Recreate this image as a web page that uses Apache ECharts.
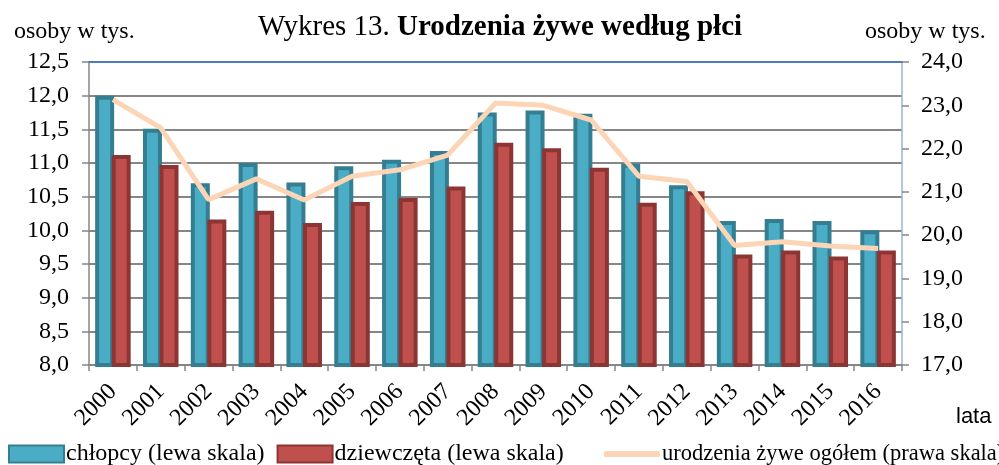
<!DOCTYPE html>
<html>
<head>
<meta charset="utf-8">
<script src="https://cdn.jsdelivr.net/npm/echarts@6/dist/echarts.min.js"></script>
<style>
html,body{margin:0;padding:0;background:#fff;}
#chart{width:999px;height:465px;}
</style>
</head>
<body>
<div id="chart"></div>
<script>
var years = ['2000','2001','2002','2003','2004','2005','2006','2007','2008','2009','2010','2011','2012','2013','2014','2015','2016'];
var boys = [12.0, 11.51, 10.7, 11.0, 10.71, 10.95, 11.05, 11.18, 11.75, 11.78, 11.73, 10.99, 10.67, 10.14, 10.17, 10.14, 10.0];
var girls = [11.12, 10.97, 10.16, 10.29, 10.11, 10.42, 10.48, 10.65, 11.3, 11.22, 10.93, 10.41, 10.58, 9.64, 9.7, 9.61, 9.7];
var total = [23.13, 22.48, 20.82, 21.3, 20.81, 21.36, 21.51, 21.85, 23.05, 23.0, 22.66, 21.36, 21.24, 19.76, 19.85, 19.75, 19.69];
var leftTicks = {min: 8, max: 12.5, step: 0.5};
var rightTicks = {min: 17, max: 24, step: 1};
var names = ['chłopcy (lewa skala)', 'dziewczęta (lewa skala)', 'urodzenia żywe ogółem (prawa skala)'];

var serif = 'Liberation Serif';
function fmt(v){ return v.toFixed(1).replace('.', ','); }

var chart = echarts.init(document.getElementById('chart'), null, {renderer: 'canvas'});
chart.setOption({
  animation: false,
  backgroundColor: '#ffffff',
  textStyle: {fontFamily: serif},
  title: [
    {
      text: '{n|Wykres 13. }{b|Urodzenia żywe według płci}',
      left: 495, top: 8, textAlign: 'center',
      textStyle: {fontWeight: 'normal', rich: {
        n: {fontFamily: serif, fontSize: 29, fontWeight: 'normal', color: '#000'},
        b: {fontFamily: serif, fontSize: 29, fontWeight: 'bold', color: '#000'}
      }}
    },
    {text: 'osoby w tys.', left: 9, top: 15, textStyle: {fontFamily: serif, fontSize: 24, fontWeight: 'normal', color: '#000'}},
    {text: 'osoby w tys.', left: 860, top: 15, textStyle: {fontFamily: serif, fontSize: 24, fontWeight: 'normal', color: '#000'}},
    {text: 'lata', left: 951, top: 401, textStyle: {fontFamily: 'Liberation Sans', fontSize: 22, fontWeight: 'normal', color: '#000'}}
  ],
  legend: [
    {
      left: 3, top: 437,
      itemWidth: 55, itemHeight: 17, itemGap: 12,
      textStyle: {fontFamily: serif, fontSize: 24, color: '#000', padding: [0,0,0,-3]},
      data: [
        {name: names[0], icon: 'rect'},
        {name: names[1], icon: 'rect'}
      ]
    },
    {
      left: 599, top: 437,
      itemWidth: 56, itemHeight: 6,
      textStyle: {fontFamily: serif, fontSize: 22.5, color: '#000', padding: [0,0,0,-3], lineHeight: 24},
      data: [{name: names[2], icon: 'roundRect'}]
    }
  ],
  grid: {left: 89, right: 97, top: 62, bottom: 100, containLabel: false},
  xAxis: [
    {
      type: 'category', data: years, position: 'bottom',
      axisLine: {lineStyle: {color: '#868686', width: 1.5}},
      axisTick: {show: true, alignWithLabel: false, length: 6, lineStyle: {color: '#868686', width: 1.5}},
      axisLabel: {rotate: 45, margin: 23, fontFamily: serif, fontSize: 24, color: '#000', interval: 0}
    },
    {
      type: 'category', data: years, position: 'top',
      axisLine: {show: true, lineStyle: {color: '#4A7EBB', width: 2}},
      axisTick: {show: false}, axisLabel: {show: false}, splitLine: {show: false}
    }
  ],
  yAxis: [
    {
      type: 'value', min: leftTicks.min, max: leftTicks.max, interval: leftTicks.step, position: 'left',
      axisLine: {show: true, lineStyle: {color: '#868686', width: 1.5}},
      axisTick: {show: true, length: 7, lineStyle: {color: '#868686', width: 1.5}},
      axisLabel: {fontFamily: serif, fontSize: 24, color: '#000', margin: 20, formatter: fmt},
      splitLine: {show: true, lineStyle: {color: '#868686', width: 1.8}}
    },
    {
      type: 'value', min: rightTicks.min, max: rightTicks.max, interval: rightTicks.step, position: 'right',
      axisLine: {show: true, lineStyle: {color: '#9DB3D3', width: 1.5}},
      axisTick: {show: true, length: 7, lineStyle: {color: '#868686', width: 1.5}},
      axisLabel: {fontFamily: serif, fontSize: 24, color: '#000', margin: 19, formatter: fmt},
      splitLine: {show: false}
    }
  ],
  series: [
    {
      name: names[0], type: 'bar', data: boys, yAxisIndex: 0,
      barWidth: 19, barGap: '-13%',
      itemStyle: {color: '#4BACC6', borderColor: '#357E91', borderWidth: 4}
    },
    {
      name: names[1], type: 'bar', data: girls, yAxisIndex: 0,
      barWidth: 19, barGap: '-13%',
      itemStyle: {color: '#C0504D', borderColor: '#8B3634', borderWidth: 4}
    },
    {
      name: names[2], type: 'line', data: total, yAxisIndex: 1,
      symbol: 'none', showSymbol: false, smooth: false,
      lineStyle: {color: '#FBD5B5', width: 5},
      itemStyle: {color: '#FBD5B5'}
    }
  ]
});
</script>
</body>
</html>
